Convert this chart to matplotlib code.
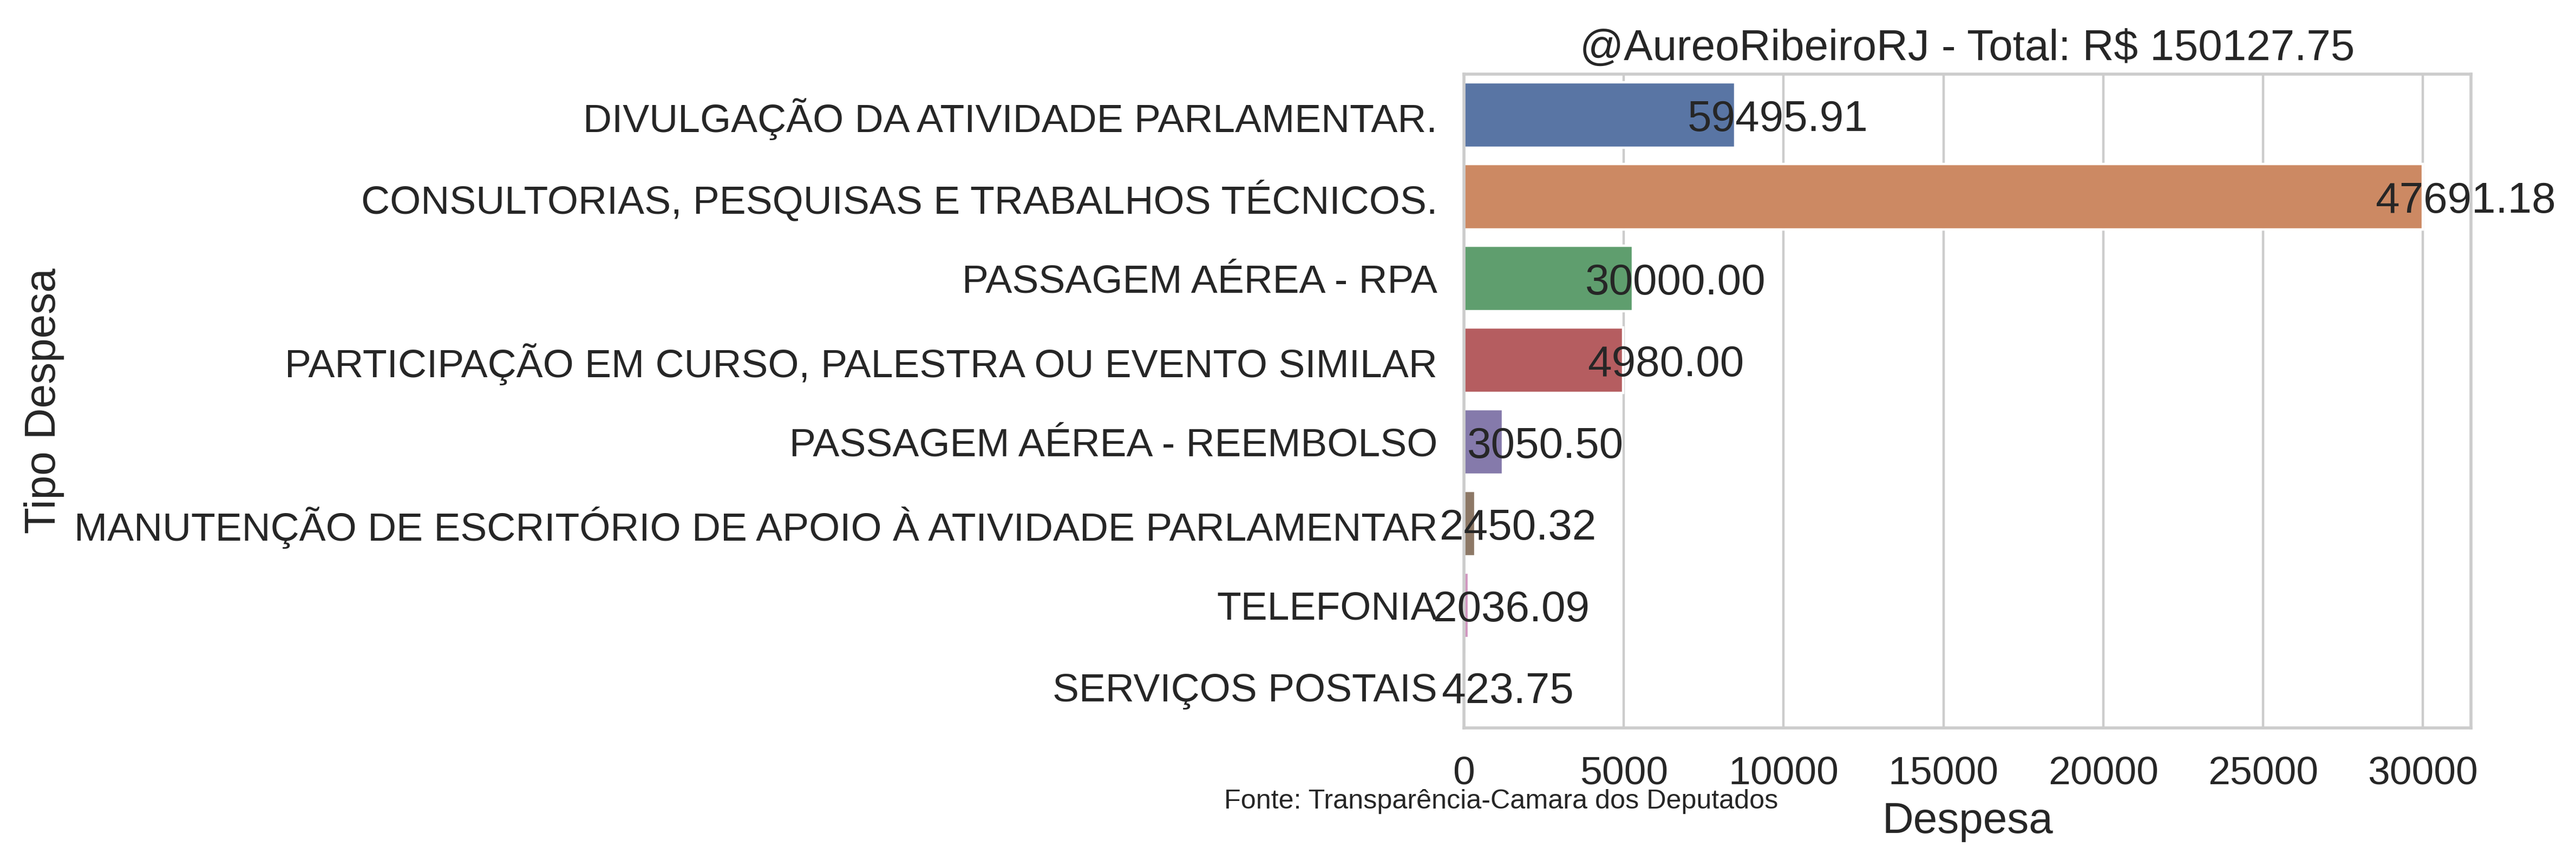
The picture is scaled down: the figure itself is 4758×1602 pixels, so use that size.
import colorsys
import matplotlib
matplotlib.use("Agg")
import matplotlib.pyplot as plt
import matplotlib.colors as mcolors

# ---- data ----
categorias = [
    "DIVULGAÇÃO DA ATIVIDADE PARLAMENTAR.",
    "CONSULTORIAS, PESQUISAS E TRABALHOS TÉCNICOS.",
    "PASSAGEM AÉREA - RPA",
    "PARTICIPAÇÃO EM CURSO, PALESTRA OU EVENTO SIMILAR",
    "PASSAGEM AÉREA - REEMBOLSO",
    "MANUTENÇÃO DE ESCRITÓRIO DE APOIO À ATIVIDADE PARLAMENTAR",
    "TELEFONIA",
    "SERVIÇOS POSTAIS",
]
barras = [8490, 30000, 5285, 4980, 1220, 350, 150, 30]
totais = [59495.91, 47691.18, 30000.00, 4980.00, 3050.50, 2450.32, 2036.09, 423.75]
titulo = r"@AureoRibeiroRJ - Total: R\$ 150127.75"
fonte = "Fonte: Transparência-Camara dos Deputados"
xticks = [0, 5000, 10000, 15000, 20000, 25000, 30000]

deep = ["#4C72B0", "#DD8452", "#55A868", "#C44E52",
        "#8172B3", "#937860", "#DA8BC3", "#8C8C8C"]


def desat(c, s=0.75):
    r, g, b = mcolors.to_rgb(c)
    h, l, sat = colorsys.rgb_to_hls(r, g, b)
    return colorsys.hls_to_rgb(h, l, sat * s)


cores = [desat(c) for c in deep]

TXT = "#262626"
plt.rcParams["font.family"] = ["Liberation Sans", "DejaVu Sans"]
plt.rcParams["text.color"] = TXT
plt.rcParams["axes.labelcolor"] = TXT
plt.rcParams["xtick.color"] = TXT
plt.rcParams["ytick.color"] = TXT

DPI = 320
fig = plt.figure(figsize=(4758 / DPI, 1602 / DPI), dpi=DPI)
ax = fig.add_axes([0.5683, 0.1604, 0.9592 - 0.5683, 0.9143 - 0.1604])

ypos = list(range(len(categorias)))
ax.barh(ypos, barras, height=0.8, color=cores, edgecolor="white",
        linewidth=1, zorder=2)

ax.set_ylim(len(categorias) - 0.5, -0.5)
ax.set_xlim(0, max(barras) * 1.05)
ax.set_xticks(xticks)
ax.set_xticklabels([str(t) for t in xticks])
ax.set_yticks(ypos)
ax.set_yticklabels(categorias)

ax.set_axisbelow(True)
ax.grid(axis="x", color="#cccccc", linewidth=1)
ax.grid(axis="y", visible=False)
for s in ax.spines.values():
    s.set_color("#cccccc")
    s.set_linewidth(1.25)

ax.tick_params(axis="both", length=0, labelsize=16.5)
ax.tick_params(axis="x", pad=11.5)
ax.tick_params(axis="y", pad=11.0)

for y, (b, t) in enumerate(zip(barras, totais)):
    ax.annotate(f"{t:.2f}", xy=(b, y), xytext=(17.7, 0),
                textcoords="offset points", ha="center",
                va="center_baseline", fontsize=18, color=TXT)

ax.set_title(titulo, fontsize=18, color=TXT)
ax.set_xlabel("Despesa", fontsize=18)
ax.set_ylabel("Tipo Despesa", fontsize=18)

fig.text(2261 / 4758, 1 - 1494 / 1602, fonte, fontsize=11.3,
         ha="left", va="baseline", color=TXT)

fig.savefig("out.png", dpi=DPI, facecolor="white")
